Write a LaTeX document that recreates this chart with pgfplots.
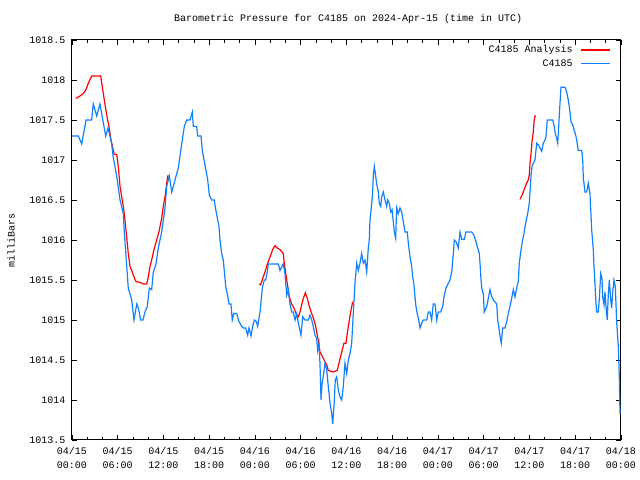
\documentclass[border=0pt]{standalone}
\usepackage{fontspec}
\setmainfont{Liberation Mono}
\usepackage{pgfplots}
\pgfplotsset{compat=1.18}
\definecolor{obsblue}{RGB}{16,128,255}
\definecolor{anared}{RGB}{255,0,0}
\begin{document}
\fontsize{10bp}{14bp}\selectfont
\begin{tikzpicture}
\useasboundingbox (-72bp,-40bp) rectangle (568bp,440bp);
\begin{axis}[
  at={(0,0)}, anchor=south west,
  scale only axis, width=549bp, height=400bp,
  xmin=0, xmax=72, ymin=1013.5, ymax=1018.5,
  xtick={0,6,...,72},
  minor xtick={2,4,8,10,14,16,20,22,26,28,32,34,38,40,44,46,50,52,56,58,62,64,68,70},
  xticklabels={{04/15\\00:00},{04/15\\06:00},{04/15\\12:00},{04/15\\18:00},{04/16\\00:00},{04/16\\06:00},{04/16\\12:00},{04/16\\18:00},{04/17\\00:00},{04/17\\06:00},{04/17\\12:00},{04/17\\18:00},{04/18\\00:00}},
  ytick={1013.5,1014,1014.5,1015,1015.5,1016,1016.5,1017,1017.5,1018,1018.5},
  yticklabels={1013.5,1014,1014.5,1015,1015.5,1016,1016.5,1017,1017.5,1018,1018.5},
  xticklabel style={align=center, font=\fontsize{10bp}{14bp}\selectfont, yshift=-4bp},
  yticklabel style={font=\fontsize{10bp}{14bp}\selectfont, xshift=-3bp},
  tick align=inside,
  major tick length=5bp, minor tick length=3bp,
  tick style={black, line width=0.8bp},
  axis line style={black, line width=1bp},
  title={Barometric Pressure for C4185 on 2024-Apr-15 (time in UTC)},
  every axis title/.style={at={(axis description cs:0.503,1.0525)}, anchor=center, font=\fontsize{10bp}{14bp}\selectfont},
  ylabel={milliBars},
  every axis y label/.style={at={(axis description cs:-0.111,0.5)}, rotate=90, anchor=center, font=\fontsize{10bp}{14bp}\selectfont},
  unbounded coords=jump,
  legend plot pos=right,
  legend cell align=right,
  legend style={at={(axis description cs:1,1)}, anchor=north east, xshift=-7bp, yshift=-1.5bp, draw=none, fill=none, font=\fontsize{10bp}{14bp}\selectfont, row sep=1bp},
  legend image code/.code={\path (0bp,0bp); \draw[#1] (6bp,0bp) -- (35bp,0bp);},
]
\addplot[anared, line width=1.2bp] table {
x y
0.52 1017.77
1.05 1017.80
1.48 1017.83
1.84 1017.88
2.14 1017.96
2.58 1018.05
3.76 1018.05
4.03 1017.88
4.24 1017.75
4.46 1017.62
4.63 1017.52
4.85 1017.42
5.08 1017.27
5.34 1017.15
5.55 1017.07
5.86 1017.07
6.07 1016.92
6.30 1016.67
6.52 1016.54
6.73 1016.42
6.95 1016.25
7.17 1016.04
7.38 1015.83
7.61 1015.67
7.83 1015.62
8.04 1015.56
8.39 1015.48
8.92 1015.47
9.35 1015.45
9.80 1015.45
10.01 1015.54
10.23 1015.67
10.45 1015.75
10.75 1015.88
11.11 1016.00
11.45 1016.12
11.76 1016.27
11.97 1016.42
12.20 1016.54
12.42 1016.71
12.55 1016.80
12.85 1016.80
13.00 nan
24.56 1015.45
24.75 1015.44
25.01 1015.52
25.31 1015.60
25.53 1015.67
25.74 1015.73
26.06 1015.81
26.32 1015.88
26.62 1015.93
26.92 1015.90
27.28 1015.88
27.71 1015.83
27.84 1015.71
28.07 1015.56
28.29 1015.42
28.50 1015.29
28.81 1015.20
29.11 1015.15
29.47 1015.06
29.68 1015.04
29.90 1015.10
30.12 1015.19
30.34 1015.27
30.60 1015.34
30.86 1015.27
31.12 1015.17
31.44 1015.08
31.74 1015.00
31.96 1014.92
32.17 1014.81
32.39 1014.69
32.52 1014.60
32.75 1014.56
32.96 1014.52
33.18 1014.48
33.48 1014.42
33.61 1014.37
34.19 1014.35
34.79 1014.37
35.06 1014.48
35.37 1014.60
35.67 1014.71
35.93 1014.71
36.16 1014.87
36.37 1015.00
36.59 1015.12
36.81 1015.23
37.00 nan
58.75 1016.51
58.98 1016.55
59.19 1016.60
59.41 1016.66
59.63 1016.71
59.84 1016.75
59.97 1016.81
60.07 1016.96
60.20 1017.08
60.33 1017.23
60.50 1017.35
60.59 1017.48
60.72 1017.55
60.85 1017.55
};
\addlegendentry{C4185 Analysis}
\addplot[obsblue, line width=1.2bp] table {
x y
0.00 1017.30
0.83 1017.30
1.27 1017.20
1.84 1017.50
2.58 1017.50
2.79 1017.70
3.24 1017.55
3.67 1017.70
4.42 1017.30
4.72 1017.40
4.98 1017.30
5.21 1017.20
5.38 1017.05
5.86 1016.80
6.30 1016.50
6.73 1016.33
6.86 1016.10
7.08 1015.80
7.38 1015.40
7.83 1015.25
8.13 1015.00
8.49 1015.20
8.70 1015.15
9.01 1015.00
9.31 1015.00
9.57 1015.10
9.88 1015.17
10.14 1015.40
10.45 1015.38
10.66 1015.60
11.02 1015.70
11.32 1015.90
11.76 1016.10
12.20 1016.40
12.42 1016.67
12.76 1016.80
13.08 1016.60
13.51 1016.75
13.94 1016.90
14.16 1017.05
14.39 1017.20
14.73 1017.42
15.04 1017.50
15.48 1017.50
15.78 1017.60
15.91 1017.42
16.35 1017.42
16.48 1017.30
16.92 1017.30
17.09 1017.12
17.44 1016.94
17.80 1016.75
18.01 1016.56
18.32 1016.50
18.66 1016.50
18.85 1016.38
19.11 1016.25
19.28 1016.17
19.41 1016.00
19.63 1015.83
19.84 1015.75
19.97 1015.62
20.16 1015.42
20.42 1015.30
20.59 1015.20
20.85 1015.20
21.02 1015.00
21.21 1015.08
21.60 1015.08
21.90 1014.98
22.26 1014.92
22.47 1014.90
22.78 1014.90
23.04 1014.81
23.21 1014.90
23.48 1014.80
23.65 1014.90
23.91 1015.00
24.17 1014.98
24.35 1014.92
24.66 1015.10
24.96 1015.40
25.22 1015.50
25.40 1015.50
25.61 1015.60
25.74 1015.70
27.06 1015.70
27.28 1015.62
27.50 1015.66
27.71 1015.70
27.93 1015.58
28.16 1015.31
28.37 1015.38
28.59 1015.20
28.81 1015.10
29.02 1015.10
29.25 1015.00
29.47 1015.08
29.68 1014.96
29.90 1014.87
30.03 1014.81
30.26 1015.04
30.56 1015.00
30.99 1015.00
31.21 1015.06
31.44 1015.00
31.65 1014.92
31.87 1014.81
32.09 1014.77
32.22 1014.62
32.39 1014.71
32.52 1014.46
32.66 1014.00
32.79 1014.20
32.96 1014.30
33.18 1014.46
33.40 1014.38
33.61 1014.17
33.84 1013.96
34.06 1013.83
34.19 1013.70
34.36 1013.92
34.53 1014.25
34.72 1014.29
34.93 1014.12
35.15 1014.04
35.37 1014.00
35.58 1014.17
35.80 1014.46
36.03 1014.33
36.24 1014.50
36.46 1014.58
36.68 1014.71
36.89 1015.08
37.11 1015.46
37.34 1015.71
37.55 1015.62
37.77 1015.71
37.99 1015.83
38.20 1015.71
38.43 1015.75
38.65 1015.60
38.86 1015.90
38.99 1016.00
39.08 1016.25
39.31 1016.46
39.44 1016.62
39.52 1016.81
39.65 1016.92
39.78 1016.83
39.96 1016.70
40.17 1016.60
40.30 1016.46
40.49 1016.42
40.62 1016.54
40.83 1016.60
41.05 1016.50
41.27 1016.42
41.40 1016.50
41.61 1016.46
41.80 1016.35
41.97 1016.38
42.14 1016.23
42.27 1016.10
42.45 1016.02
42.58 1016.40
42.79 1016.33
43.02 1016.40
43.24 1016.35
43.45 1016.23
43.67 1016.10
43.97 1016.10
44.11 1015.96
44.33 1015.79
44.55 1015.67
44.68 1015.54
44.85 1015.44
44.98 1015.29
45.11 1015.17
45.28 1015.08
45.47 1015.00
45.64 1014.90
45.86 1014.96
46.07 1015.00
46.52 1015.00
46.73 1015.10
46.95 1015.10
47.17 1015.00
47.38 1015.20
47.61 1015.20
47.83 1015.00
48.04 1015.10
48.36 1015.10
48.62 1015.17
48.79 1015.29
49.05 1015.40
49.35 1015.46
49.57 1015.50
49.80 1015.60
50.01 1015.83
50.14 1016.00
50.36 1015.98
50.66 1015.90
50.89 1016.10
51.11 1016.01
51.45 1016.01
51.67 1016.10
52.42 1016.10
52.72 1016.06
52.98 1015.98
53.15 1015.92
53.42 1015.83
53.51 1015.71
53.64 1015.50
53.77 1015.38
53.94 1015.33
54.07 1015.10
54.39 1015.17
54.60 1015.27
54.82 1015.38
55.04 1015.29
55.34 1015.24
55.70 1015.20
55.83 1015.00
55.96 1014.92
56.13 1014.80
56.30 1014.71
56.48 1014.90
56.79 1014.90
57.01 1014.98
57.22 1015.08
57.44 1015.17
57.66 1015.27
57.88 1015.38
58.10 1015.29
58.32 1015.40
58.53 1015.48
58.66 1015.71
58.85 1015.85
59.06 1015.98
59.28 1016.08
59.45 1016.19
59.63 1016.27
59.80 1016.35
59.97 1016.46
60.07 1016.60
60.20 1016.81
60.33 1016.92
60.50 1016.96
60.72 1017.00
60.94 1017.21
61.15 1017.19
61.38 1017.15
61.60 1017.11
61.81 1017.21
62.03 1017.25
62.16 1017.29
62.33 1017.50
63.04 1017.50
63.21 1017.44
63.38 1017.33
63.57 1017.27
63.70 1017.21
63.83 1017.42
64.00 1017.71
64.13 1017.91
64.66 1017.91
64.88 1017.85
65.09 1017.75
65.31 1017.60
65.44 1017.48
65.67 1017.44
65.84 1017.38
66.06 1017.31
66.19 1017.25
66.40 1017.12
66.85 1017.12
66.98 1017.00
67.06 1016.77
67.28 1016.60
67.50 1016.60
67.71 1016.71
67.93 1016.58
68.16 1016.12
68.37 1015.88
68.46 1015.67
68.59 1015.44
68.72 1015.21
68.81 1015.10
69.02 1015.10
69.15 1015.25
69.34 1015.58
69.51 1015.52
69.60 1015.29
69.77 1015.19
69.90 1015.35
70.03 1015.17
70.20 1015.00
70.33 1015.31
70.47 1015.50
70.65 1015.25
70.78 1015.15
70.91 1015.35
71.08 1015.50
71.25 1015.42
71.44 1014.96
71.65 1014.67
71.78 1014.29
71.87 1013.83
};
\addlegendentry{C4185}
\end{axis}
\end{tikzpicture}
\end{document}
